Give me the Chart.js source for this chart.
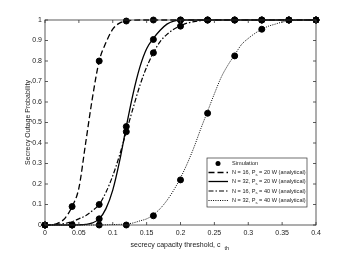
<!DOCTYPE html>
<html>
<head>
<meta charset="utf-8">
<script src="https://cdn.jsdelivr.net/npm/chart.js@4"></script>
<style>
  html, body { margin: 0; padding: 0; background: #fff; }
  #wrap { width: 350px; height: 263px; }
</style>
</head>
<body>
<div id="wrap"><canvas id="c" width="350" height="263"></canvas></div>
<script>
// analytical curves, every 0.01
var cth = [0, 0.01, 0.02, 0.03, 0.04, 0.05, 0.06, 0.07, 0.08, 0.09,
           0.1, 0.11, 0.12, 0.13, 0.14, 0.15, 0.16, 0.17, 0.18, 0.19,
           0.2, 0.21, 0.22, 0.23, 0.24, 0.25, 0.26, 0.27, 0.28, 0.29,
           0.3, 0.31, 0.32, 0.33, 0.34, 0.35, 0.36, 0.37, 0.38, 0.39, 0.4];
var n16p20 = [0, 0.001, 0.01, 0.035, 0.09, 0.18, 0.40, 0.62, 0.80, 0.89,
              0.955, 0.985, 0.995, 0.999, 1, 1, 1, 1, 1, 1,
              1, 1, 1, 1, 1, 1, 1, 1, 1, 1,
              1, 1, 1, 1, 1, 1, 1, 1, 1, 1, 1];
var n32p20 = [0, 0, 0, 0, 0, 0.001, 0.003, 0.01, 0.03, 0.08,
              0.17, 0.31, 0.48, 0.64, 0.77, 0.86, 0.91, 0.95, 0.98, 0.995,
              1, 1, 1, 1, 1, 1, 1, 1, 1, 1,
              1, 1, 1, 1, 1, 1, 1, 1, 1, 1, 1];
var n16p40 = [0, 0.001, 0.004, 0.008, 0.016, 0.03, 0.045, 0.07, 0.10, 0.16,
              0.24, 0.34, 0.455, 0.57, 0.68, 0.77, 0.84, 0.895, 0.93, 0.955,
              0.972, 0.985, 0.992, 0.997, 1, 1, 1, 1, 1, 1,
              1, 1, 1, 1, 1, 1, 1, 1, 1, 1, 1];
var n32p40 = [0, 0, 0, 0, 0, 0, 0, 0, 0, 0.001,
              0.002, 0.003, 0.005, 0.01, 0.02, 0.03, 0.05, 0.08, 0.12, 0.17,
              0.23, 0.30, 0.38, 0.47, 0.555, 0.64, 0.72, 0.78, 0.83, 0.88,
              0.91, 0.935, 0.955, 0.97, 0.98, 0.99, 0.995, 0.998, 1, 1, 1];

// simulation points
var simX = [0, 0.04, 0.08, 0.12, 0.16, 0.2, 0.24, 0.28, 0.32, 0.36, 0.4];
var sim16p20 = [0, 0.09, 0.80, 0.995, 1, 1, 1, 1, 1, 1, 1];
var sim32p20 = [0, 0, 0.03, 0.48, 0.905, 1, 1, 1, 1, 1, 1];
var sim16p40 = [0, 0, 0.10, 0.455, 0.84, 0.97, 1, 1, 1, 1, 1];
var sim32p40 = [0, 0, 0, 0, 0.045, 0.22, 0.545, 0.825, 0.955, 1, 1];

var xTicks = [0, 0.05, 0.1, 0.15, 0.2, 0.25, 0.3, 0.35, 0.4];
var yTicks = [0, 0.1, 0.2, 0.3, 0.4, 0.5, 0.6, 0.7, 0.8, 0.9, 1];
var labels = ['Simulation',
  'N = 16, P_s = 20 W (analytical)',
  'N = 32, P_s = 20 W (analytical)',
  'N = 16, P_s = 40 W (analytical)',
  'N = 32, P_s = 40 W (analytical)'];

var FONT = '"Liberation Sans", Arial, sans-serif';

function pts(xs, ys) {
  return xs.map(function (x, i) { return { x: x, y: ys[i] }; });
}

var simPts = [].concat(pts(simX, sim16p20), pts(simX, sim32p20), pts(simX, sim16p40), pts(simX, sim32p40));

function lineSet(label, ys, dash, w) {
  return {
    label: label, data: pts(cth, ys), showLine: true,
    borderColor: '#000', borderWidth: w, borderDash: dash,
    pointRadius: 0, cubicInterpolationMode: 'monotone', clip: false
  };
}

// draws subscript "_s" parts
function subText(ctx, txt, x, y, size) {
  var parts = txt.split('_');
  ctx.font = size + 'px ' + FONT;
  ctx.fillText(parts[0], x, y);
  x += ctx.measureText(parts[0]).width;
  for (var i = 1; i < parts.length; i++) {
    var s = parts[i].charAt(0), rest = parts[i].slice(1);
    ctx.font = (size * 0.75) + 'px ' + FONT;
    ctx.fillText(s, x, y + size * 0.35);
    x += ctx.measureText(s).width;
    ctx.font = size + 'px ' + FONT;
    ctx.fillText(rest, x, y);
    x += ctx.measureText(rest).width;
  }
}

var frame = {
  id: 'frame',
  afterDraw: function (chart) {
    var ctx = chart.ctx, a = chart.chartArea;
    var xs = chart.scales.x, ys = chart.scales.y;
    ctx.save();
    ctx.strokeStyle = '#333';
    ctx.lineWidth = 0.8;
    ctx.setLineDash([]);
    ctx.strokeRect(a.left, a.top, a.right - a.left, a.bottom - a.top);
    ctx.beginPath();
    xTicks.forEach(function (v) {
      var px = xs.getPixelForValue(v);
      ctx.moveTo(px, a.bottom); ctx.lineTo(px, a.bottom - 3);
      ctx.moveTo(px, a.top); ctx.lineTo(px, a.top + 3);
    });
    yTicks.forEach(function (v) {
      var py = ys.getPixelForValue(v);
      ctx.moveTo(a.left, py); ctx.lineTo(a.left + 3, py);
      ctx.moveTo(a.right, py); ctx.lineTo(a.right - 3, py);
    });
    ctx.stroke();

    // axis titles
    ctx.fillStyle = '#222';
    ctx.textBaseline = 'middle';
    ctx.font = '7px ' + FONT;
    var t = 'secrecy capacity threshold, c';
    var tw = ctx.measureText(t).width;
    var cx = (a.left + a.right) / 2;
    ctx.textAlign = 'left';
    ctx.fillText(t, cx - tw / 2 - 5, 245);
    ctx.font = '5.5px ' + FONT;
    ctx.fillText('th', cx + tw / 2 - 1, 248);

    ctx.save();
    ctx.translate(28, (a.top + a.bottom) / 2);
    ctx.rotate(-Math.PI / 2);
    ctx.textAlign = 'center';
    ctx.font = '7px ' + FONT;
    ctx.fillText('Secrecy Outage Probability', 0, 0);
    ctx.restore();

    // legend
    var lx = 207, ly = 158, lw = 100, lh = 49;
    ctx.fillStyle = '#fff';
    ctx.fillRect(lx, ly, lw, lh);
    ctx.strokeStyle = '#333';
    ctx.lineWidth = 0.7;
    ctx.strokeRect(lx, ly, lw, lh);
    var rows = [163.5, 172.5, 181.5, 191, 200.5];
    chart.data.datasets.forEach(function (ds, i) {
      var y = rows[i];
      ctx.strokeStyle = '#000';
      if (i === 0) {
        ctx.fillStyle = '#000';
        ctx.beginPath();
        ctx.arc(218, y, 2.5, 0, Math.PI * 2);
        ctx.fill();
      } else {
        ctx.lineWidth = ds.borderWidth;
        ctx.setLineDash(ds.borderDash || []);
        ctx.beginPath();
        ctx.moveTo(208.5, y); ctx.lineTo(228, y);
        ctx.stroke();
        ctx.setLineDash([]);
      }
      ctx.fillStyle = '#222';
      ctx.textAlign = 'left';
      subText(ctx, ds.label, 232, y, 5.6);
    });
    ctx.restore();
  }
};

new Chart(document.getElementById('c'), {
  type: 'scatter',
  data: {
    datasets: [
      { label: labels[0], data: simPts, pointRadius: 3, pointHoverRadius: 3,
        backgroundColor: '#000', borderColor: '#000', showLine: false, clip: false },
      lineSet(labels[1], n16p20, [6, 3], 1.3),
      lineSet(labels[2], n32p20, [], 1.3),
      lineSet(labels[3], n16p40, [5, 2, 1.5, 2], 1.2),
      lineSet(labels[4], n32p40, [1, 1.3], 1)
    ]
  },
  options: {
    responsive: false,
    animation: false,
    layout: { padding: { top: 20, right: 34, left: 0, bottom: 0 } },
    plugins: { legend: { display: false }, tooltip: { enabled: false } },
    scales: {
      x: {
        type: 'linear', min: 0, max: 0.4,
        grid: { display: false, drawTicks: false },
        border: { display: false },
        afterFit: function (s) { s.height = 38; },
        afterBuildTicks: function (s) { s.ticks = xTicks.map(function (v) { return { value: v }; }); },
        ticks: { padding: 4, color: '#222', font: { family: FONT, size: 7 },
                 maxRotation: 0, callback: function (v) { return String(+v.toFixed(2)); } }
      },
      y: {
        type: 'linear', min: 0, max: 1,
        grid: { display: false, drawTicks: false },
        border: { display: false },
        afterFit: function (s) { s.width = 45; },
        afterBuildTicks: function (s) { s.ticks = yTicks.map(function (v) { return { value: v }; }); },
        ticks: { padding: 3, color: '#222', font: { family: FONT, size: 7 },
                 callback: function (v) { return String(+v.toFixed(2)); } }
      }
    }
  },
  plugins: [frame]
});
</script>
</body>
</html>
